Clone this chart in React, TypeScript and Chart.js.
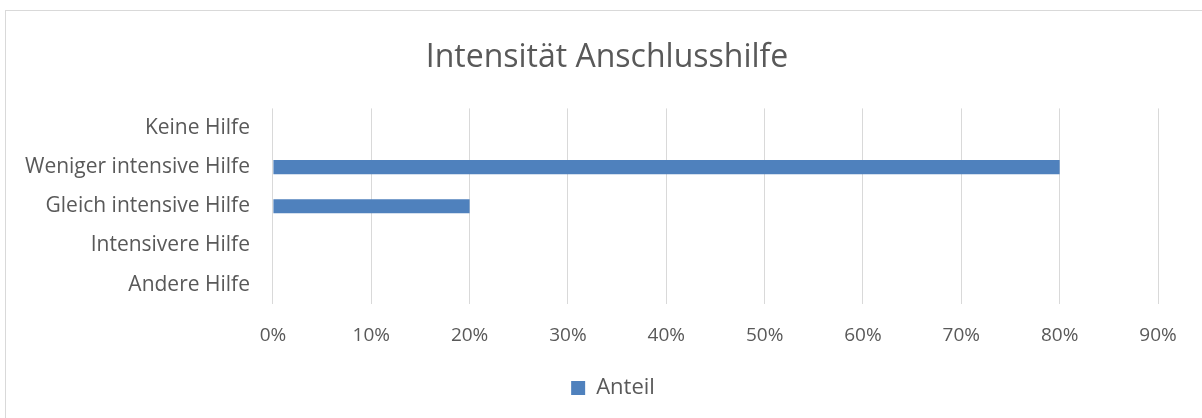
import React, { useEffect, useRef } from "react";
import { Chart, registerables } from "chart.js";

Chart.register(...registerables);

const categories = [
  "Keine Hilfe",
  "Weniger intensive Hilfe",
  "Gleich intensive Hilfe",
  "Intensivere Hilfe",
  "Andere Hilfe",
];
const anteil = [0, 0.8, 0.2, 0, 0];
const seriesName = "Anteil";
const titleText = "Intensität Anschlusshilfe";
const xMax = 0.9;
const xStep = 0.1;

const FONT = "'Open Sans', sans-serif";
const TEXT = "#595959";

const shiftBoxes = {
  id: "shiftBoxes",
  afterLayout(chart: any) {
    const t = chart.titleBlock;
    if (t) {
      t.left += 27;
      t.right += 27;
    }
    const l = chart.legend;
    if (l) {
      l.left += 33;
      l.right += 33;
    }
  },
};

export default function App() {
  const ref = useRef<HTMLCanvasElement | null>(null);

  useEffect(() => {
    document.body.style.margin = "0";
    if (!ref.current) return;
    const chart = new Chart(ref.current, {
      type: "bar",
      data: {
        labels: categories,
        datasets: [
          {
            label: seriesName,
            data: anteil,
            backgroundColor: "#4f81bd",
            borderWidth: 0,
            barPercentage: 0.72,
            categoryPercentage: 0.5,
          },
        ],
      },
      options: {
        indexAxis: "y",
        responsive: false,
        animation: false,
        layout: { padding: { left: 2, right: 44, top: 20, bottom: 9 } },
        scales: {
          x: {
            min: 0,
            max: xMax,
            ticks: {
              stepSize: xStep,
              callback: (v: any) => Math.round(Number(v) * 100) + "%",
              font: { family: FONT, size: 19 },
              color: TEXT,
              padding: 20,
            },
            grid: { color: "#d9d9d9", lineWidth: 1, drawTicks: false },
            border: { display: false },
          },
          y: {
            ticks: {
              font: { family: FONT, size: 21 },
              color: TEXT,
              padding: 23,
            },
            grid: { display: false, drawTicks: false },
            border: { display: false },
          },
        },
        plugins: {
          title: {
            display: true,
            text: titleText,
            font: { family: FONT, size: 32, weight: "normal" },
            color: TEXT,
            padding: { top: 19, bottom: 31 },
          },
          legend: {
            position: "bottom",
            labels: {
              boxWidth: 14,
              boxHeight: 14,
              font: { family: FONT, size: 22 },
              color: TEXT,
              padding: 10,
            },
          },
          tooltip: { enabled: false },
        },
      },
      plugins: [shiftBoxes],
    });
    return () => chart.destroy();
  }, []);

  return (
    <div style={{ position: "relative", width: 1202, height: 418, overflow: "hidden", background: "#fff" }}>
      <div
        style={{
          position: "absolute",
          left: 5,
          top: 10,
          width: 1300,
          height: 500,
          borderLeft: "1px solid #d9d9d9",
          borderTop: "1px solid #d9d9d9",
        }}
      />
      <canvas ref={ref} width={1202} height={418} style={{ position: "absolute", left: 0, top: 0 }} />
    </div>
  );
}
